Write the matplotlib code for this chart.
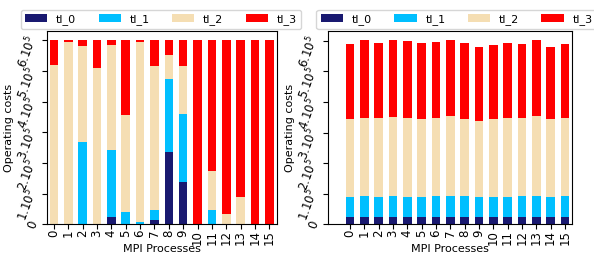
import numpy as np
import matplotlib
matplotlib.use('Agg')
import matplotlib.pyplot as plt

plt.rcParams['mathtext.default'] = 'it'

# Dados (unidades de 1e5)
procs = [str(i) for i in range(16)]
series = ['tl_0', 'tl_1', 'tl_2', 'tl_3']
cores = ['#191970', '#00BFFF', '#F5DEB3', '#FF0000']

# Painel esquerdo
e_tl0 = [0, 0, 0, 0, 0.24, 0, 0, 0.15, 2.35, 1.37, 0, 0, 0, 0, 0, 0]
e_tl1 = [0, 0, 2.67, 0, 2.20, 0.40, 0.09, 0.31, 2.40, 2.24, 0, 0.46, 0, 0, 0, 0]
e_tl2 = [5.20, 5.95, 3.16, 5.10, 3.41, 3.18, 5.86, 4.71, 0.77, 1.56, 0, 1.27, 0.35, 0.89, 0, 0]
e_tl3 = [0.81, 0.06, 0.18, 0.91, 0.16, 2.43, 0.06, 0.84, 0.49, 0.84, 6.01, 4.28, 5.66, 5.12, 6.01, 6.01]

# Painel direito
d_tl0 = [0.24] * 16
d_tl1 = [0.65, 0.68, 0.65, 0.68, 0.65, 0.65, 0.68, 0.68, 0.68, 0.65, 0.65, 0.65, 0.68, 0.68, 0.65, 0.68]
d_tl2 = [2.54, 2.56, 2.60, 2.60, 2.57, 2.54, 2.56, 2.63, 2.51, 2.48, 2.54, 2.57, 2.56, 2.63, 2.54, 2.56]
d_tl3 = [2.45, 2.53, 2.43, 2.50, 2.52, 2.49, 2.47, 2.47, 2.49, 2.42, 2.42, 2.46, 2.40, 2.47, 2.36, 2.40]

yticks = [0, 1, 2, 3, 4, 5, 6]
ylabels = ['$0$'] + ['$%d.10^5$' % i for i in yticks[1:]]

fig = plt.figure(figsize=(5.94, 2.54), dpi=100)
ax1 = fig.add_axes([0.0786, 0.117, 0.387, 0.761])
ax2 = fig.add_axes([0.552, 0.117, 0.411, 0.761])


def empilha(ax, dados, xlim, legx):
    x = np.arange(len(procs))
    base = np.zeros(len(procs))
    for nome, v, c in zip(series, dados, cores):
        v = np.array(v) * 1e5
        ax.bar(x, v, 0.6, bottom=base, color=c, label=nome)
        base += v
    ax.set_xlim(*xlim)
    ax.set_xticks(x)
    ax.set_xticklabels(procs, rotation=90, fontsize=8.5)
    ax.set_yticks(np.array(yticks) * 1e5)
    ax.set_yticklabels(ylabels, rotation=70, fontsize=8.5)
    ax.tick_params(axis='y', pad=1)
    ax.tick_params(axis='x', pad=0.5)
    ax.set_xlabel('MPI Processes', fontsize=8, labelpad=-0.5)
    ax.set_ylabel('Operating costs', fontsize=8, labelpad=0)
    ax.legend(loc='center', ncol=4, fontsize=8, bbox_to_anchor=(legx, 0.923),
              bbox_transform=fig.transFigure, borderaxespad=0)


empilha(ax1, [e_tl0, e_tl1, e_tl2, e_tl3], (-0.5, 15.5), 0.271)
empilha(ax2, [d_tl0, d_tl1, d_tl2, d_tl3], (-1.55, 15.5), 0.769)

fig.savefig('out.png', dpi=100)
